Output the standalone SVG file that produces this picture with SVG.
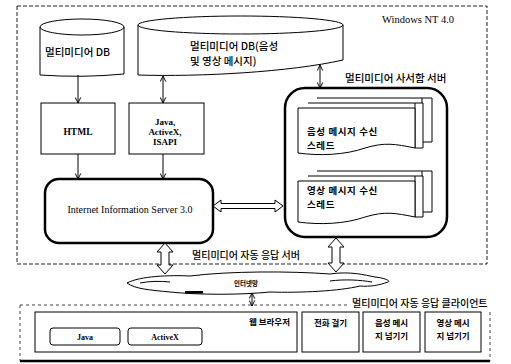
<svg xmlns="http://www.w3.org/2000/svg" width="511" height="364" viewBox="0 0 511 364">
<defs>
<style>
.box{fill:#fff;stroke:#000;stroke-width:1}
.ko{font-family:"Noto Sans CJK KR","Noto Sans",sans-serif;fill:#000}
.lat{font-family:"Liberation Serif",serif;fill:#000}
.dash{fill:none;stroke:#222;stroke-width:1;stroke-dasharray:4 2}
.ln{fill:none;stroke:#000;stroke-width:1}
.hollow{fill:#fff;stroke:#000;stroke-width:1}
</style>
<marker id="ah" viewBox="0 0 10 10" refX="9" refY="5" markerWidth="7" markerHeight="7" orient="auto-start-reverse" markerUnits="userSpaceOnUse">
<path d="M1,1 L9,5 L1,9" fill="none" stroke="#000" stroke-width="1.4"/>
</marker>
</defs>
<rect width="511" height="364" fill="#fff"/>

<g id="nt-frame">
<rect class="dash" x="17" y="6" width="470" height="258"/>
<text class="lat" x="382" y="23" font-size="10.5">Windows NT 4.0</text>
</g>

<g id="db1">
<path class="box" d="M40,27 A42,8 0 0,1 124,27 L124,74 Q82,78 40,75 Z"/>
<path class="ln" d="M40,27 A42,8 0 0,0 124,27"/>
<text class="ko" x="45" y="56" font-size="10.5" font-weight="500">멀티미디어 DB</text>
</g>

<g id="db2">
<path class="box" d="M138,25 A102.5,9 0 0,1 343,25 L343,60 C290,72 200,77 138,75 Z"/>
<path class="ln" d="M138,25 A102.5,9 0 0,0 343,25"/>
<text class="ko" x="190" y="50" font-size="10.5" font-weight="500">멀티미디어 DB(음성</text>
<text class="ko" x="190" y="65" font-size="10.5" font-weight="500">및 영상 메시지)</text>
</g>

<g id="html">
<rect class="box" x="41" y="103" width="74" height="51"/>
<text class="lat" x="78" y="135" font-size="9.5" font-weight="bold" text-anchor="middle">HTML</text>
</g>

<g id="java-isapi">
<rect class="box" x="129" y="103" width="75" height="51"/>
<text class="lat" x="165" y="125" font-size="9" font-weight="bold" text-anchor="middle">Java,</text>
<text class="lat" x="165" y="135" font-size="9" font-weight="bold" text-anchor="middle">ActiveX,</text>
<text class="lat" x="165" y="145" font-size="9" font-weight="bold" text-anchor="middle">ISAPI</text>
</g>

<g id="iis">
<rect x="45" y="179" width="168" height="64" rx="14" fill="#fff" stroke="#000" stroke-width="2.5"/>
<text class="lat" x="130" y="213" font-size="10" text-anchor="middle">Internet Information Server 3.0</text>
</g>

<g id="msg-server">
<text class="ko" x="345" y="82" font-size="10.5" font-weight="500">멀티미디어 사서함 서버</text>
<rect x="285" y="88" width="162" height="149" rx="20" fill="#fff" stroke="#000" stroke-width="2.5"/>
</g>

<g id="voice-thread">
<path class="box" d="M317,98 H432 V142 H422 V98"/>
<path class="box" d="M308,103 H423 V148 H415 V103"/>
<path class="box" d="M298,108 H415 V148 C395,144 385,142 365,148 C345,155 320,156 298,153 Z"/>
<text class="ko" x="307" y="135" font-size="9.5" font-weight="bold" letter-spacing="0.6">음성 메시지 수신</text>
<text class="ko" x="307" y="149" font-size="9.5" font-weight="bold" letter-spacing="0.6">스레드</text>
</g>

<g id="video-thread">
<path class="box" d="M317,171 H432 V212 H422 V171"/>
<path class="box" d="M308,176 H423 V217 H415 V176"/>
<path class="box" d="M298,181 H415 V217 C395,213 385,211 365,217 C345,224 320,225 298,222 Z"/>
<text class="ko" x="307" y="194" font-size="9.5" font-weight="bold" letter-spacing="0.6">영상 메시지 수신</text>
<text class="ko" x="307" y="208" font-size="9.5" font-weight="bold" letter-spacing="0.6">스레드</text>
</g>

<g id="server-label">
<text class="ko" x="192" y="259" font-size="10" font-weight="500">멀티미디어 자동 응답 서버</text>
</g>

<g id="internet">
<path fill="#fff" stroke="#000" stroke-width="1" d="M127,283 C140,276 170,275 190,276 C230,271 290,271 330,274 C350,271 365,275 375,277 C385,278 391,281 388,282 C380,285 370,287 360,286 C340,291 300,293 270,292 C240,295 200,295 170,292 C150,290 135,289 127,283 Z"/>
<path class="ln" d="M140,283 C150,281 160,281 170,282 M330,281 C345,279 360,280 372,282"/>
<rect x="185" y="291" width="18" height="2.5" fill="#000"/>
<text class="ko" x="246" y="286" font-size="6.5" font-weight="bold" text-anchor="middle">인터넷망</text>
</g>

<g id="client">
<path d="M20,305 H347 M20,305 V361 M490,312 V361" fill="none" stroke="#444" stroke-width="1" stroke-dasharray="3 3"/>
<line x1="20" y1="361" x2="490" y2="361" stroke="#000" stroke-width="2.5"/>
<text class="ko" x="352" y="307" font-size="10" font-weight="500">멀티미디어 자동 응답 클라이언트</text>
</g>

<g id="browser">
<rect class="box" x="35" y="312" width="262" height="40"/>
<text class="ko" x="290" y="325" font-size="8.5" font-weight="bold" text-anchor="end">웹 브라우저</text>
</g>

<g id="java-ctl">
<rect class="box" x="50" y="328" width="70" height="17" rx="3"/>
<text class="lat" x="85" y="340" font-size="8" font-weight="bold" text-anchor="middle">Java</text>
</g>

<g id="activex-ctl">
<rect class="box" x="128" y="328" width="74" height="17" rx="3"/>
<text class="lat" x="165" y="340" font-size="8" font-weight="bold" text-anchor="middle">ActiveX</text>
</g>

<g id="call">
<rect class="box" x="302" y="312" width="57" height="40"/>
<text class="ko" x="330.5" y="326" font-size="8.5" font-weight="bold" text-anchor="middle">전화 걸기</text>
</g>

<g id="voice-pass">
<rect class="box" x="363" y="312" width="57" height="40"/>
<text class="ko" x="391.5" y="326" font-size="8.5" font-weight="bold" text-anchor="middle">음성 메시</text>
<text class="ko" x="391.5" y="339" font-size="8.5" font-weight="bold" text-anchor="middle">지 넘기기</text>
</g>

<g id="video-pass">
<rect class="box" x="425" y="312" width="56" height="40"/>
<text class="ko" x="453" y="326" font-size="8.5" font-weight="bold" text-anchor="middle">영상 메시</text>
<text class="ko" x="453" y="339" font-size="8.5" font-weight="bold" text-anchor="middle">지 넘기기</text>
</g>

<g id="connectors">
<line class="ln" x1="78" y1="75" x2="78" y2="103" marker-end="url(#ah)"/>
<line class="ln" x1="163" y1="76" x2="163" y2="103" marker-start="url(#ah)" marker-end="url(#ah)"/>
<line class="ln" x1="320" y1="65" x2="320" y2="88" marker-start="url(#ah)" marker-end="url(#ah)"/>
<line class="ln" x1="78" y1="154" x2="78" y2="179" marker-end="url(#ah)"/>
<line class="ln" x1="163" y1="154" x2="163" y2="179" marker-end="url(#ah)"/>
<polygon class="hollow" points="213,206 221,200 221,203.5 275,203.5 275,200 283,206 275,212 275,208.5 221,208.5 221,212"/>
<polygon class="hollow" points="165,243 173,252 169,252 169,265 173,265 165,274 157,265 161,265 161,252 157,252"/>
<polygon class="hollow" points="336,238 344,247 340,247 340,263 344,263 336,272 328,263 332,263 332,247 328,247"/>
<line class="ln" x1="252" y1="293" x2="252" y2="306" marker-start="url(#ah)" marker-end="url(#ah)"/>
</g>
</svg>
